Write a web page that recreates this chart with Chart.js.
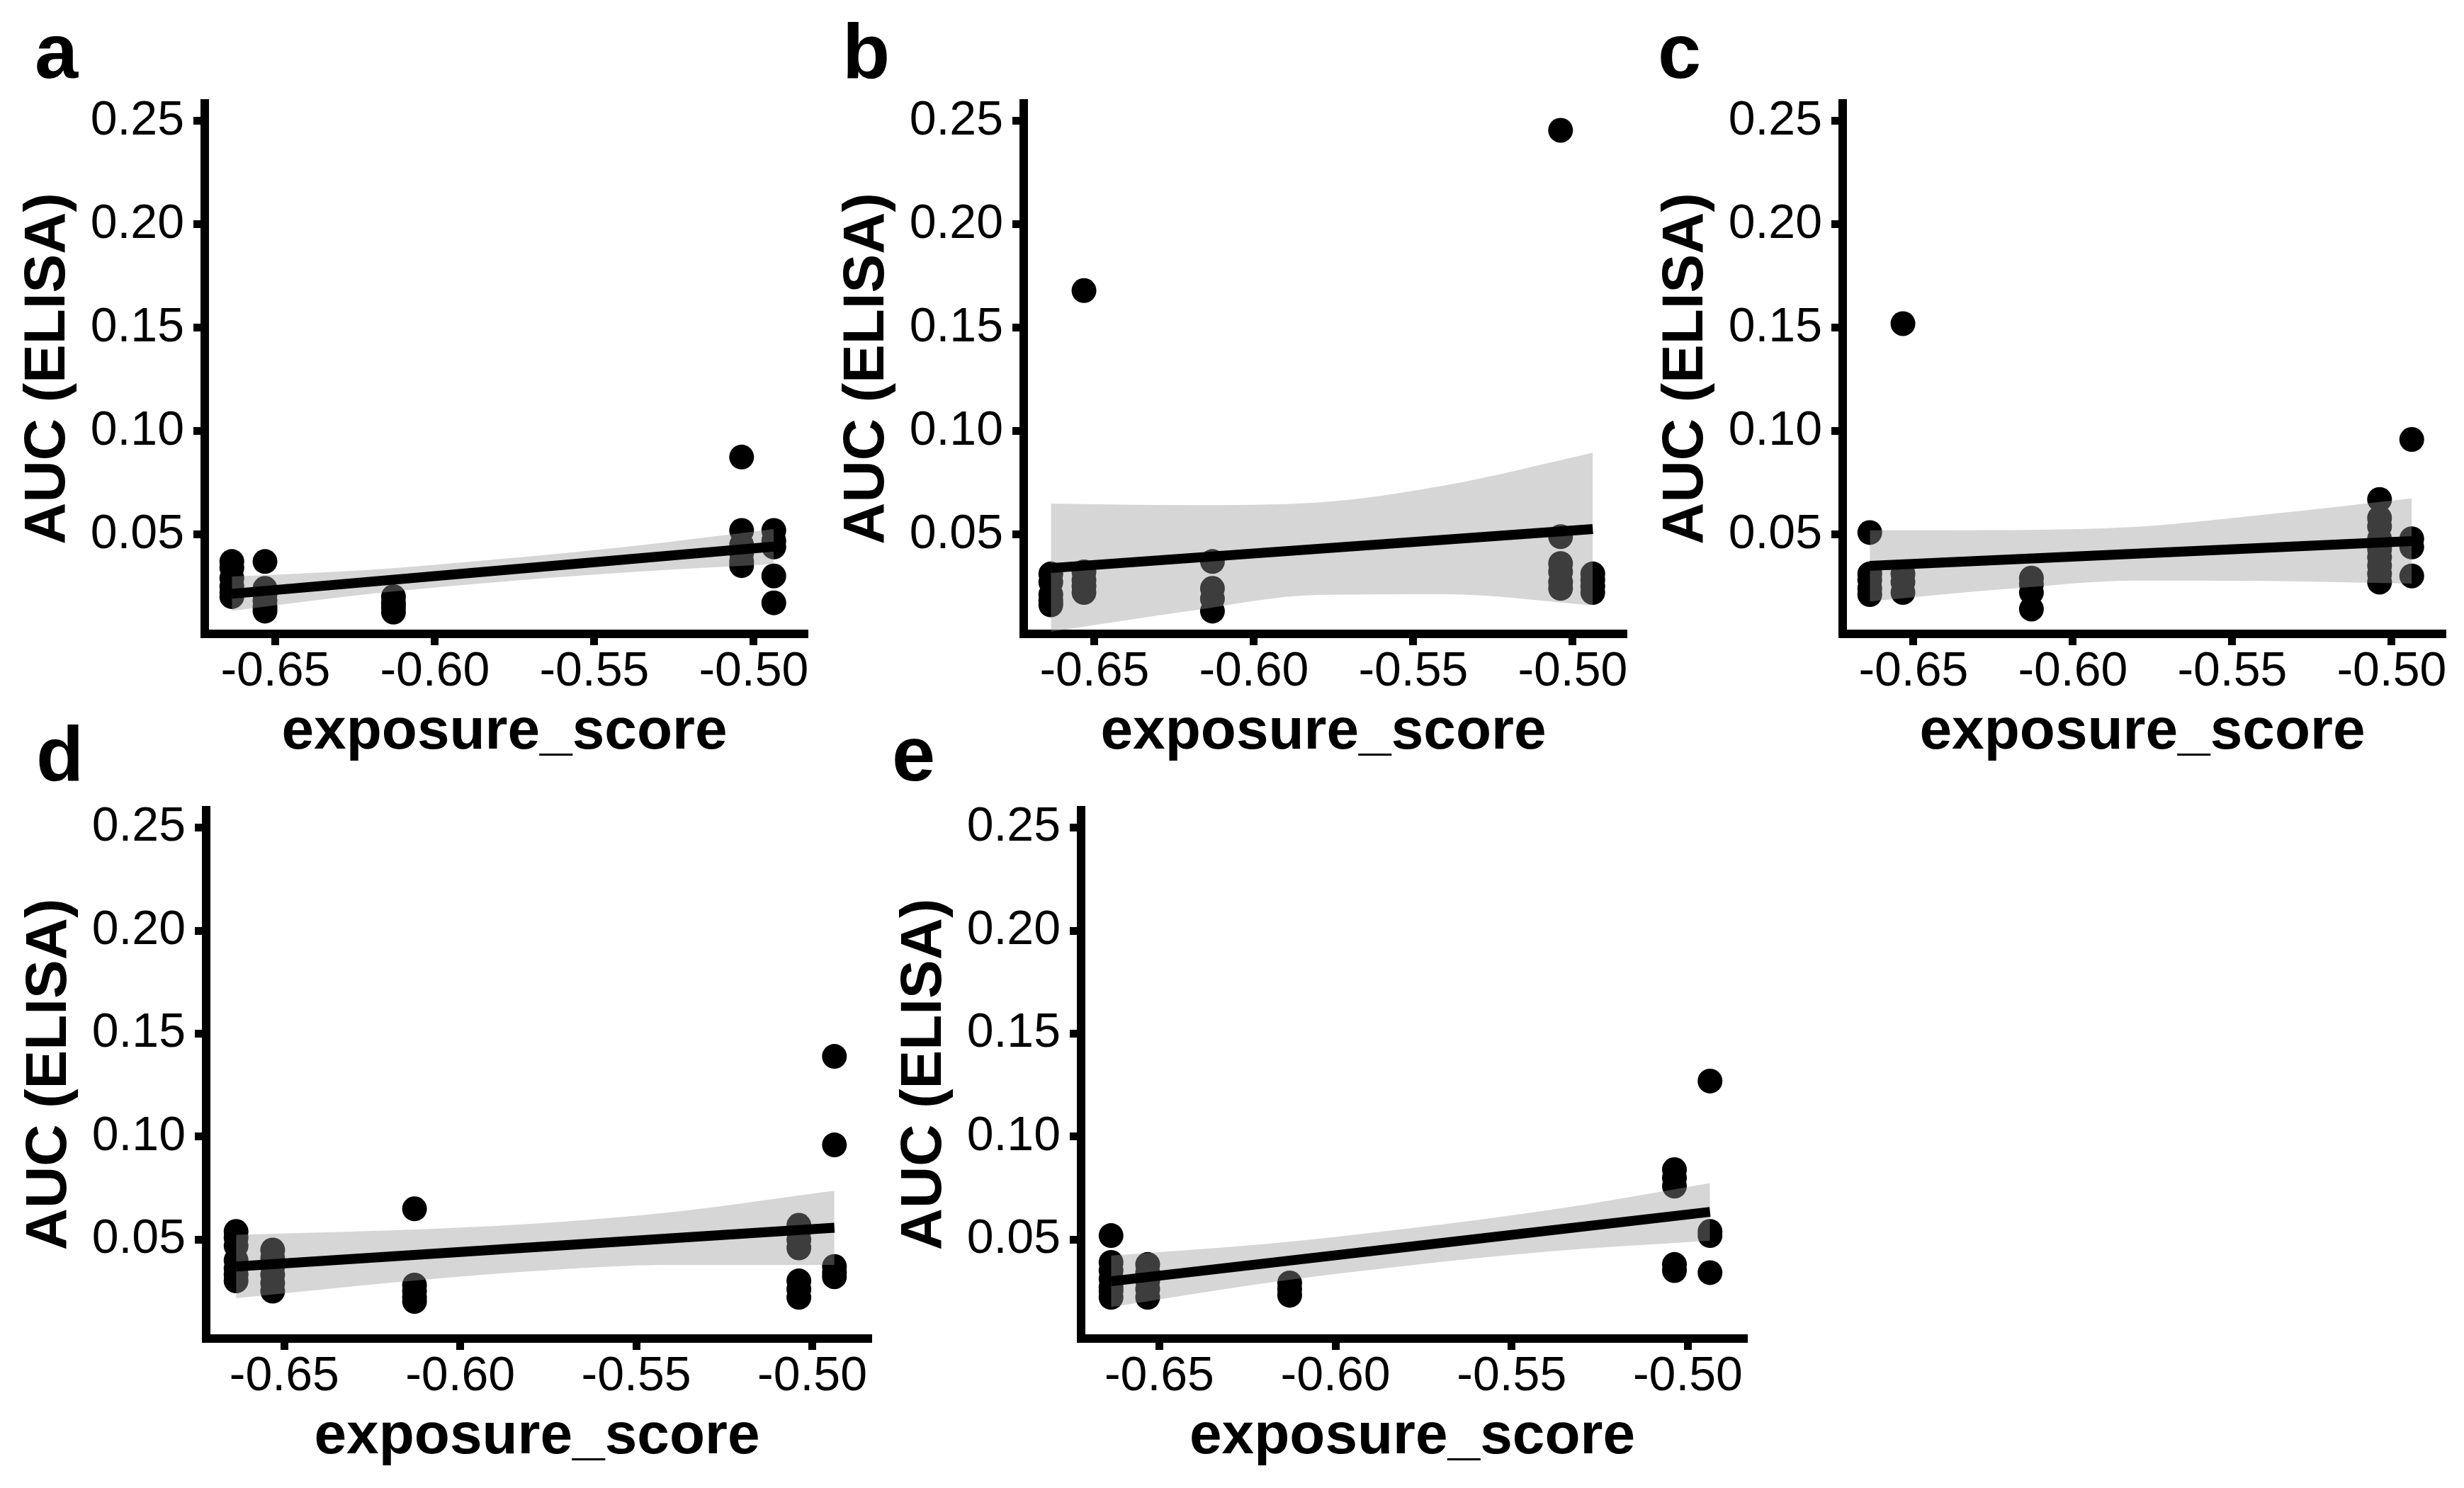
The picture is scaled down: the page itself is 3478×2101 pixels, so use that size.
<!DOCTYPE html>
<html>
<head>
<meta charset="utf-8">
<script src="https://cdn.jsdelivr.net/npm/chart.js@4.4.1/dist/chart.umd.min.js"></script>
<style>
html, body { margin: 0; padding: 0; background: #fff; }
#page { position: relative; width: 3478px; height: 2101px; background: #fff; overflow: hidden; }
canvas { position: absolute; }
</style>
</head>
<body>
<div id="page"></div>
<script>
// exposure_score of the five sample groups (same in every panel)
var xGroups = [-0.6637, -0.6533, -0.6130, -0.5038, -0.4937];
var xTicks = [-0.65, -0.60, -0.55, -0.50];
var yTicks = [0.05, 0.10, 0.15, 0.20, 0.25];
var bandX = [-0.6637, -0.62, -0.58, -0.54, -0.4937];

// AUC (ELISA) values, one array per exposure group
var aucA = [
  [0.037, 0.034, 0.029, 0.025, 0.022, 0.020],
  [0.037, 0.024, 0.021, 0.018, 0.015, 0.013],
  [0.020, 0.017, 0.015, 0.0125],
  [0.0875, 0.052, 0.045, 0.041, 0.037, 0.035],
  [0.052, 0.047, 0.044, 0.030, 0.017]
];
var fitA = [0.0214, 0.0442];
var bandUpperA = [0.0297, 0.0330, 0.0381, 0.0441, 0.0527];
var bandLowerA = [0.0131, 0.0214, 0.0271, 0.0317, 0.0357];

var aucB = [
  [0.031, 0.027, 0.021, 0.018, 0.016],
  [0.168, 0.032, 0.028, 0.025, 0.022],
  [0.037, 0.024, 0.019, 0.013],
  [0.2455, 0.049, 0.036, 0.032, 0.027, 0.024],
  [0.031, 0.028, 0.025, 0.022]
];
var fitB = [0.0338, 0.0527];
var bandUpperB = [0.0650, 0.0642, 0.0655, 0.0738, 0.0896];
var bandLowerB = [0.0030, 0.0131, 0.0208, 0.0212, 0.0158];

var aucC = [
  [0.051, 0.031, 0.028, 0.024, 0.021],
  [0.152, 0.031, 0.027, 0.022],
  [0.029, 0.026, 0.022, 0.014],
  [0.067, 0.058, 0.054, 0.048, 0.043, 0.039, 0.035, 0.031, 0.027],
  [0.096, 0.048, 0.044, 0.030]
];
var fitC = [0.0349, 0.0469];
var bandUpperC = [0.0521, 0.0522, 0.0538, 0.0596, 0.0675];
var bandLowerC = [0.0177, 0.0238, 0.0278, 0.0276, 0.0263];

var aucD = [
  [0.054, 0.051, 0.047, 0.040, 0.036, 0.033, 0.030],
  [0.045, 0.041, 0.037, 0.033, 0.029, 0.025],
  [0.065, 0.028, 0.025, 0.022, 0.020],
  [0.057, 0.054, 0.050, 0.046, 0.030, 0.026, 0.022],
  [0.139, 0.096, 0.037, 0.034, 0.032]
];
var fitD = [0.0370, 0.0558];
var bandUpperD = [0.0524, 0.0545, 0.0577, 0.0634, 0.0738];
var bandLowerD = [0.0216, 0.0291, 0.0347, 0.0378, 0.0378];

var aucE = [
  [0.052, 0.039, 0.035, 0.031, 0.027, 0.025, 0.022],
  [0.038, 0.034, 0.030, 0.026, 0.022],
  [0.029, 0.026, 0.023],
  [0.084, 0.080, 0.076, 0.038, 0.035],
  [0.127, 0.054, 0.052, 0.034]
];
var fitE = [0.0298, 0.0635];
var bandUpperE = [0.0423, 0.0479, 0.0553, 0.0642, 0.0775];
var bandLowerE = [0.0173, 0.0289, 0.0373, 0.0442, 0.0495];

var X_MIN = -0.6722, X_MAX = -0.4842;
var Y_MIN = 0.002, Y_MAX = 0.2585;

// canvas box + plot area (page pixels) for each panel
var panels = [
  {letter: 'a', auc: aucA, fit: fitA, up: bandUpperA, lo: bandLowerA,
   box: {x: 0, y: 0, w: 1165, h: 1100}, area: {l: 289, t: 146, r: 1135, b: 895}, lab: {x: 49, y: 110}},
  {letter: 'b', auc: aucB, fit: fitB, up: bandUpperB, lo: bandLowerB,
   box: {x: 1160, y: 0, w: 1160, h: 1100}, area: {l: 1445, t: 146, r: 2291, b: 895}, lab: {x: 1189, y: 110}},
  {letter: 'c', auc: aucC, fit: fitC, up: bandUpperC, lo: bandLowerC,
   box: {x: 2318, y: 0, w: 1160, h: 1100}, area: {l: 2601, t: 146, r: 3447, b: 895}, lab: {x: 2340, y: 110}},
  {letter: 'd', auc: aucD, fit: fitD, up: bandUpperD, lo: bandLowerD,
   box: {x: 0, y: 1000, w: 1260, h: 1101}, area: {l: 291, t: 1144, r: 1225, b: 1890}, lab: {x: 51, y: 1102}},
  {letter: 'e', auc: aucE, fit: fitE, up: bandUpperE, lo: bandLowerE,
   box: {x: 1230, y: 1000, w: 1260, h: 1101}, area: {l: 1526, t: 1144, r: 2461, b: 1890}, lab: {x: 1259, y: 1102}}
];

var PAD = 10;
var TITLE_SIZE = 82;
var TICK_SIZE = 68;
var FONT = '"Liberation Sans", Arial, Helvetica, sans-serif';

Chart.defaults.font.family = FONT;
Chart.defaults.color = '#000';

var letterPlugin = {
  id: 'panelLetter',
  afterDraw: function(chart, args, opts) {
    var ctx = chart.ctx;
    ctx.save();
    ctx.font = 'bold 110px ' + FONT;
    ctx.fillStyle = '#000';
    ctx.textBaseline = 'alphabetic';
    ctx.textAlign = 'left';
    ctx.fillText(opts.text, opts.x, opts.y);
    ctx.restore();
  }
};

function axisGrid() {
  return {
    display: true,
    drawOnChartArea: false,
    drawTicks: true,
    tickLength: 16,
    tickWidth: 11,
    lineWidth: 11,
    color: '#000',
    tickColor: '#000'
  };
}

function makePanel(p) {
  var cv = document.createElement('canvas');
  cv.width = p.box.w;
  cv.height = p.box.h;
  cv.style.left = p.box.x + 'px';
  cv.style.top = p.box.y + 'px';
  cv.style.width = p.box.w + 'px';
  cv.style.height = p.box.h + 'px';
  document.getElementById('page').appendChild(cv);

  var pts = [];
  p.auc.forEach(function(group, i) {
    group.forEach(function(v) { pts.push({x: xGroups[i], y: v}); });
  });
  var fitPts = [{x: xGroups[0], y: p.fit[0]}, {x: xGroups[xGroups.length - 1], y: p.fit[1]}];
  var upPts = bandX.map(function(x, i) { return {x: x, y: p.up[i]}; });
  var loPts = bandX.map(function(x, i) { return {x: x, y: p.lo[i]}; });

  var yWidth = p.area.l - p.box.x - PAD;
  var xHeight = p.box.y + p.box.h - p.area.b - PAD;
  var titleLH = TITLE_SIZE * 1.2;
  var yTitleTop = (p.area.l - 221 - p.box.x) - PAD - titleLH / 2;
  var xTitleBottom = (p.box.h - PAD) - titleLH / 2 - (p.area.b + 139.6 - p.box.y);

  new Chart(cv, {
    type: 'line',
    data: {
      datasets: [
        {data: fitPts, showLine: true, borderColor: '#000', borderWidth: 14,
         borderCapStyle: 'butt', pointRadius: 0, fill: false, order: 0},
        {data: upPts, showLine: true, borderColor: 'rgba(0,0,0,0)', borderWidth: 0,
         pointRadius: 0, fill: '+1', backgroundColor: 'rgba(153,153,153,0.4)',
         cubicInterpolationMode: 'monotone', order: 1},
        {data: loPts, showLine: true, borderColor: 'rgba(0,0,0,0)', borderWidth: 0,
         pointRadius: 0, fill: false, cubicInterpolationMode: 'monotone', order: 2},
        {data: pts, showLine: false, pointRadius: 17.5, pointHoverRadius: 17.5,
         pointBackgroundColor: '#000', pointBorderWidth: 0, pointBorderColor: '#000', order: 3}
      ]
    },
    options: {
      responsive: false,
      animation: false,
      events: [],
      layout: {
        padding: {left: PAD, top: p.area.t - p.box.y, right: p.box.x + p.box.w - p.area.r, bottom: PAD}
      },
      plugins: {
        legend: {display: false},
        tooltip: {enabled: false},
        panelLetter: {text: p.letter, x: p.lab.x - p.box.x, y: p.lab.y - p.box.y}
      },
      scales: {
        x: {
          type: 'linear',
          min: X_MIN,
          max: X_MAX,
          afterBuildTicks: function(s) { s.ticks = xTicks.map(function(v) { return {value: v}; }); },
          afterFit: function(s) { s.height = xHeight; },
          grid: axisGrid(),
          border: {display: true, width: 12, color: '#000'},
          ticks: {
            autoSkip: false, maxRotation: 0, color: '#000', padding: 4,
            font: {size: TICK_SIZE, lineHeight: 1},
            callback: function(v) { return Number(v).toFixed(2); }
          },
          title: {
            display: true, text: 'exposure_score', color: '#000',
            font: {size: TITLE_SIZE, weight: 'bold', lineHeight: 1.2},
            padding: {top: 0, bottom: xTitleBottom}
          }
        },
        y: {
          type: 'linear',
          min: Y_MIN,
          max: Y_MAX,
          afterBuildTicks: function(s) { s.ticks = yTicks.map(function(v) { return {value: v}; }); },
          afterFit: function(s) { s.width = yWidth; },
          grid: axisGrid(),
          border: {display: true, width: 12, color: '#000'},
          ticks: {
            autoSkip: false, color: '#000', padding: 13,
            font: {size: TICK_SIZE, lineHeight: 1},
            callback: function(v) { return Number(v).toFixed(2); }
          },
          title: {
            display: true, text: 'AUC (ELISA)', color: '#000',
            font: {size: TITLE_SIZE, weight: 'bold', lineHeight: 1.2},
            padding: {top: yTitleTop, bottom: 0}
          }
        }
      }
    },
    plugins: [letterPlugin]
  });
}

panels.forEach(makePanel);
</script>
</body>
</html>
